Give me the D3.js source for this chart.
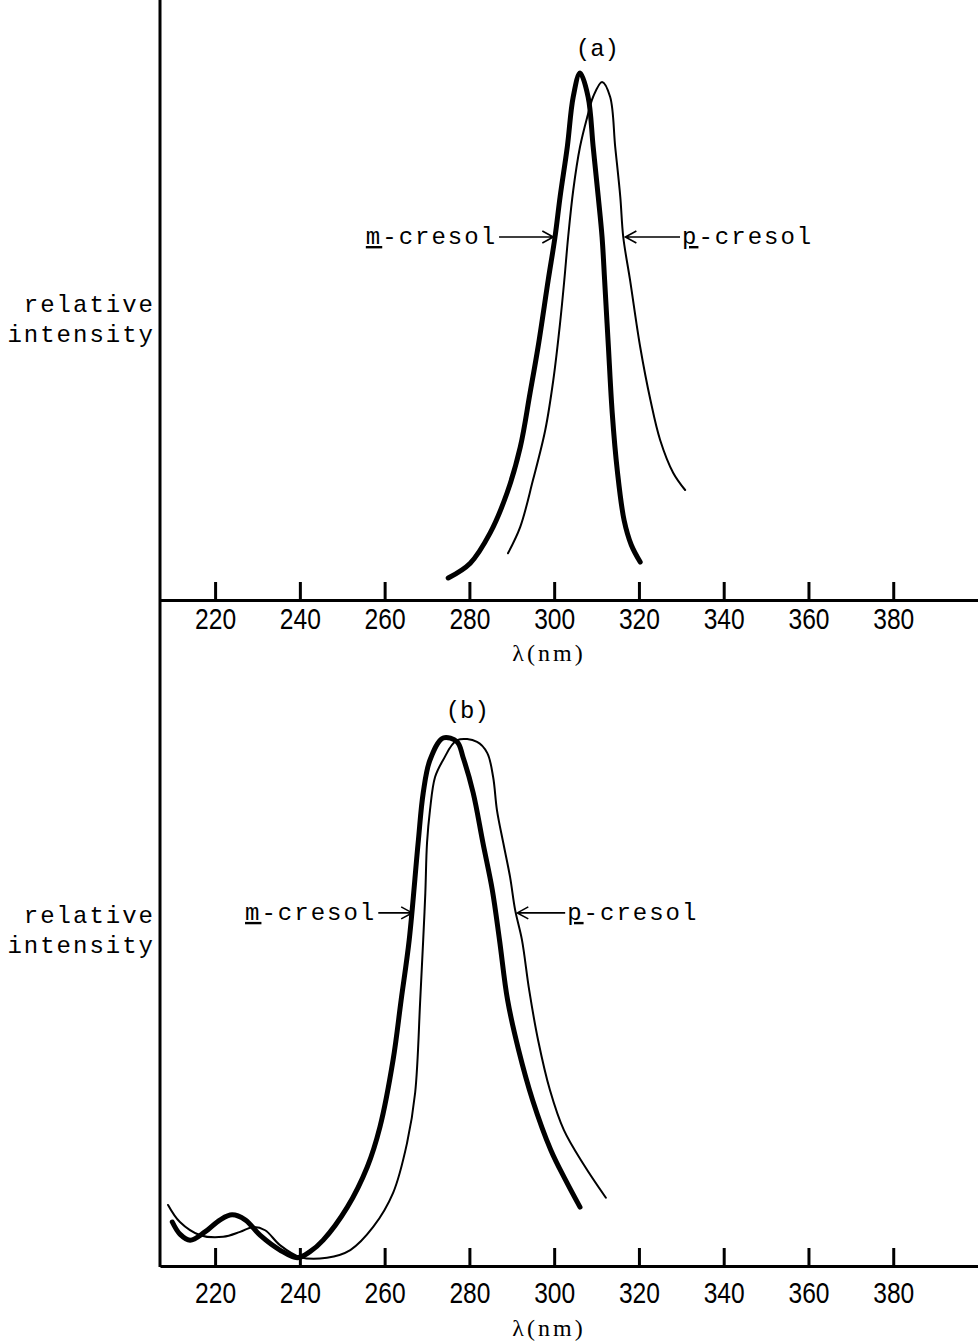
<!DOCTYPE html>
<html>
<head>
<meta charset="utf-8">
<script src="https://cdn.jsdelivr.net/npm/d3@7"></script>
<style>
  body { margin: 0; background: #fff; }
  svg { display: block; }
  .tick text { font-family: "Liberation Sans", sans-serif; font-size: 30px; fill: #000; }
  .mono { font-family: "Liberation Mono", "DejaVu Sans Mono", monospace; font-size: 24px; letter-spacing: 2px; fill: #000; }
  .tag { font-family: "Liberation Mono", "DejaVu Sans Mono", monospace; font-size: 24px; fill: #000; }
  .unit { font-family: "Liberation Serif", serif; font-size: 24px; letter-spacing: 3px; fill: #000; }
</style>
</head>
<body>
<svg width="978" height="1344"></svg>
<script>
// wavelength ticks (nm)
const tickNm = [220, 240, 260, 280, 300, 320, 340, 360, 380];

// panel (a): [wavelength nm, relative intensity]
const mCresolA = [
  [275.0, 4.0], [280.2, 6.7], [284.9, 12.2], [288.9, 19.5], [292.0, 27.8], [294.3, 37.6],
  [296.2, 46.0], [298.6, 58.2], [300.2, 66.0], [301.4, 73.3], [303.1, 82.4], [304.5, 91.5],
  [306.1, 95.8], [308.0, 91.5], [309.2, 82.4], [310.4, 73.3], [311.3, 66.0], [311.9, 58.2],
  [312.8, 46.0], [313.7, 34.0], [314.9, 23.5], [316.5, 14.5], [318.2, 10.0], [320.3, 6.9]
];
const pCresolA = [
  [289.1, 8.5], [292.0, 13.3], [295.0, 21.8], [297.9, 30.9], [299.8, 40.0], [301.4, 50.4],
  [302.4, 58.2], [303.3, 66.0], [304.5, 74.5], [306.1, 82.4], [307.8, 87.8], [309.2, 91.5],
  [311.3, 94.2], [313.2, 91.5], [314.4, 82.4], [315.6, 73.3], [316.3, 66.0], [317.9, 58.2],
  [320.3, 46.0], [322.7, 36.4], [325.0, 29.1], [328.1, 23.1], [330.9, 20.0]
];

// panel (b)
const mCresolB = [
  [209.9, 8.0], [211.7, 5.8], [214.1, 4.7], [217.6, 6.2], [221.2, 8.4], [224.0, 9.3],
  [227.1, 8.4], [230.6, 5.6], [235.3, 2.9], [239.4, 1.5], [242.4, 2.6], [245.5, 4.7],
  [251.2, 10.7], [255.9, 18.0], [258.9, 25.3], [262.0, 37.5], [263.9, 48.4], [265.8, 59.3],
  [267.9, 76.9], [269.1, 86.0], [270.7, 92.0], [273.8, 96.0], [277.1, 95.3], [278.5, 92.5],
  [280.9, 86.0], [283.2, 76.9], [285.4, 68.4], [287.1, 59.3], [289.0, 48.4], [291.6, 39.3],
  [294.9, 30.2], [299.2, 21.1], [302.7, 15.6], [306.1, 10.7]
];
const pCresolB = [
  [208.9, 11.1], [211.7, 8.0], [216.5, 5.6], [221.9, 5.3], [225.9, 6.2], [229.0, 7.1],
  [231.8, 6.5], [235.3, 3.8], [240.1, 1.6], [246.4, 1.5], [251.9, 2.9], [257.3, 7.1],
  [262.0, 13.3], [265.3, 22.4], [267.2, 31.5], [268.4, 48.4], [269.1, 59.3], [269.6, 67.8],
  [270.0, 76.9], [270.7, 82.9], [271.9, 88.9], [273.8, 92.0], [277.1, 95.6], [281.8, 95.3],
  [284.2, 93.3], [285.6, 88.9], [286.5, 82.9], [288.0, 76.9], [289.6, 70.7], [290.8, 64.7],
  [292.4, 59.3], [294.1, 50.2], [296.2, 41.1], [299.0, 32.0], [302.3, 24.7], [307.0, 18.4],
  [312.2, 12.4]
];

// arrow labels: [underlined letter, rest, tip nm, tip intensity, tail nm]
const labelsA = [["m", "-cresol", 299.8, 66, 287.0], ["p", "-cresol", 316.8, 66, 329.7]];
const labelsB = [["m", "-cresol", 266.5, 64.2, 258.5], ["p", "-cresol", 291.3, 64.2, 302.6]];

const svg = d3.select("svg");

const x = d3.scaleLinear().domain([207, 400]).range([160, 978]);

const panels = [
  { tag: "(a)", tagNm: 310.2, base: 600, top: 50, m: mCresolA, p: pCresolA, labels: labelsA, pad: 8,
    yLab: [312, 342], unitY: 661, tagY: 56 },
  { tag: "(b)", tagNm: 279.5, base: 1266, top: 716, m: mCresolB, p: pCresolB, labels: labelsB, pad: 16,
    yLab: [923, 953], unitY: 1336, tagY: 718 }
];

// left axis runs the full height
svg.append("line")
  .attr("x1", 160).attr("x2", 160).attr("y1", 0).attr("y2", 1267)
  .attr("stroke", "#000").attr("stroke-width", 3);

panels.forEach(p => {
  const y = d3.scaleLinear().domain([0, 100]).range([p.base, p.top]);

  const ax = svg.append("g")
    .attr("transform", `translate(0,${p.base})`)
    .call(d3.axisBottom(x).tickValues(tickNm).tickSizeInner(-18).tickSizeOuter(0).tickPadding(p.pad));
  ax.select(".domain").attr("stroke-width", 3);
  ax.selectAll(".tick line").attr("stroke-width", 3);
  ax.selectAll(".tick text").attr("transform", "scale(0.82,1)");

  const line = d3.line()
    .x(d => x(d[0]))
    .y(d => y(d[1]))
    .curve(d3.curveCatmullRom.alpha(0.5));

  svg.append("path").datum(p.p)
    .attr("d", line).attr("fill", "none").attr("stroke", "#000")
    .attr("stroke-width", 2).attr("stroke-linecap", "round");
  svg.append("path").datum(p.m)
    .attr("d", line).attr("fill", "none").attr("stroke", "#000")
    .attr("stroke-width", 5).attr("stroke-linecap", "round").attr("stroke-linejoin", "round");

  // arrows + labels
  p.labels.forEach(([u, rest, tipNm, v, tailNm]) => {
    const tx = x(tipNm), ty = y(v), sx = x(tailNm);
    const dir = tx > sx ? 1 : -1;
    svg.append("path")
      .attr("d", `M${sx},${ty}L${tx},${ty}M${tx - dir * 11},${ty - 6}L${tx},${ty}L${tx - dir * 11},${ty + 6}`)
      .attr("fill", "none").attr("stroke", "#000").attr("stroke-width", 1.6);
    const t = svg.append("text").attr("class", "mono")
      .attr("x", dir > 0 ? sx - 2 : sx + 2).attr("y", ty + 7)
      .attr("text-anchor", dir > 0 ? "end" : "start");
    t.append("tspan").attr("text-decoration", "underline").text(u);
    t.append("tspan").text(rest);
  });

  svg.append("text").attr("class", "tag")
    .attr("x", x(p.tagNm)).attr("y", p.tagY).attr("text-anchor", "middle").text(p.tag);

  svg.append("text").attr("class", "mono").attr("text-anchor", "end")
    .attr("x", 155).attr("y", p.yLab[0]).text("relative");
  svg.append("text").attr("class", "mono").attr("text-anchor", "end")
    .attr("x", 155).attr("y", p.yLab[1]).text("intensity");

  svg.append("text").attr("class", "unit").attr("text-anchor", "middle")
    .attr("x", 549).attr("y", p.unitY).text("λ(nm)");
});
</script>
</body>
</html>
